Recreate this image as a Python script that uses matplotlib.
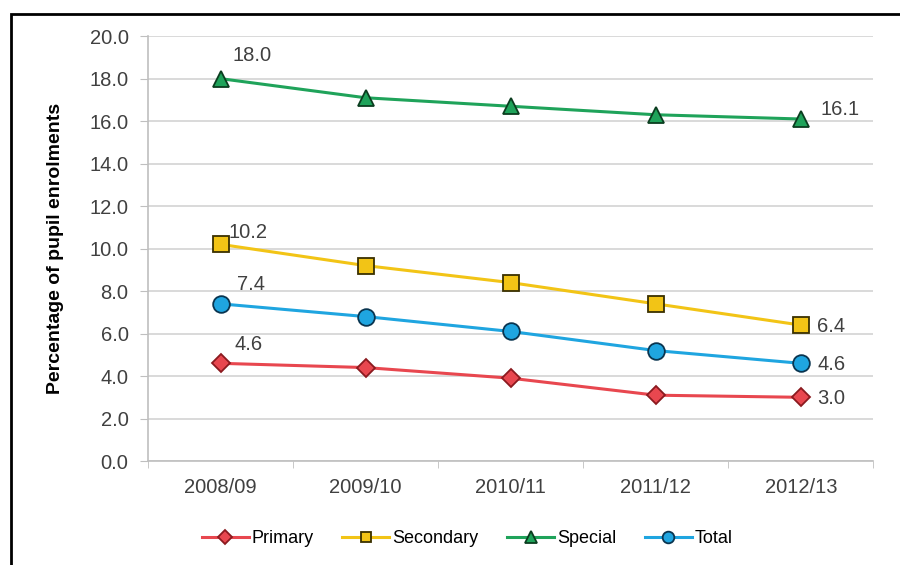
import matplotlib.pyplot as plt
import numpy as np
from matplotlib.patches import Rectangle

plt.rcParams["font.family"] = ["Liberation Sans", "DejaVu Sans"]

# data
years = ["2008/09", "2009/10", "2010/11", "2011/12", "2012/13"]
primary = [4.6, 4.4, 3.9, 3.1, 3.0]
secondary = [10.2, 9.2, 8.4, 7.4, 6.4]
special = [18.0, 17.1, 16.7, 16.3, 16.1]
total = [7.4, 6.8, 6.1, 5.2, 4.6]

fig = plt.figure(figsize=(9, 5.65), dpi=100)
ax = fig.add_axes([0.1644, 0.184, 0.806, 0.752])

# outer frame around the chart
fig.patches.append(
    Rectangle((11 / 900, -0.01), 1.0, 1 - 14 / 565 + 0.01,
              transform=fig.transFigure, fill=False, edgecolor="black", lw=2)
)

x = np.arange(len(years))
series = [
    ("Primary", primary, "#E8474F", "#8B1A1F", "D", 9.5),
    ("Secondary", secondary, "#F2C416", "#3A3000", "s", 11),
    ("Special", special, "#1FA35A", "#0B3D1F", "^", 12),
    ("Total", total, "#1FA5E0", "#0A3550", "o", 12),
]
for name, vals, col, edge, mk, ms in series:
    ax.plot(x, vals, color=col, lw=2.2, marker=mk, markersize=ms,
            markerfacecolor=col, markeredgecolor=edge, markeredgewidth=1.3,
            label=name, zorder=3)

# data labels on first and last points
lab = dict(fontsize=14.5, color="#404040")
ax.annotate(f"{special[0]:.1f}", (x[0], special[0]), xytext=(9, 10),
            textcoords="offset points", ha="left", va="bottom", **lab)
ax.annotate(f"{secondary[0]:.1f}", (x[0], secondary[0]), xytext=(6, 2),
            textcoords="offset points", ha="left", va="bottom", **lab)
ax.annotate(f"{total[0]:.1f}", (x[0], total[0]), xytext=(12, 7),
            textcoords="offset points", ha="left", va="bottom", **lab)
ax.annotate(f"{primary[0]:.1f}", (x[0], primary[0]), xytext=(10, 7),
            textcoords="offset points", ha="left", va="bottom", **lab)
ax.annotate(f"{special[-1]:.1f}", (x[-1], special[-1]), xytext=(14, 0),
            textcoords="offset points", ha="left", va="bottom", **lab)
for vals in (secondary, total, primary):
    ax.annotate(f"{vals[-1]:.1f}", (x[-1], vals[-1]), xytext=(12, -1),
                textcoords="offset points", ha="left", va="center", **lab)

ax.set_xlim(-0.5, len(years) - 0.5)
ax.set_ylim(0, 20)
ax.set_yticks(np.arange(0, 20.1, 2))
ax.set_yticklabels([f"{v:.1f}" for v in np.arange(0, 20.1, 2)])
ax.set_xticks(x)
ax.set_xticklabels(years)
ax.set_xticks(np.arange(-0.5, len(years), 1), minor=True)
ax.tick_params(axis="x", which="major", length=0, pad=12, labelsize=14.5,
               labelcolor="#404040")
ax.tick_params(axis="x", which="minor", length=5, color="#BFBFBF")
ax.tick_params(axis="y", length=6, color="#BFBFBF", pad=8, labelsize=14.5,
               labelcolor="#404040")

ax.grid(axis="y", color="#D9D9D9", lw=1.4)
ax.set_axisbelow(True)
for side in ("top", "right"):
    ax.spines[side].set_visible(False)
for side in ("left", "bottom"):
    ax.spines[side].set_color("#BFBFBF")
    ax.spines[side].set_linewidth(1.2)

ax.set_ylabel("Percentage of pupil enrolments", fontsize=14,
              fontweight="bold", labelpad=18)

ax.legend(loc="upper center", bbox_to_anchor=(0.44, -0.125), ncol=4,
          frameon=False, fontsize=13, handlelength=2.6, handletextpad=0.15,
          columnspacing=1.6, markerscale=0.7)

fig.savefig("out.png", dpi=100)
